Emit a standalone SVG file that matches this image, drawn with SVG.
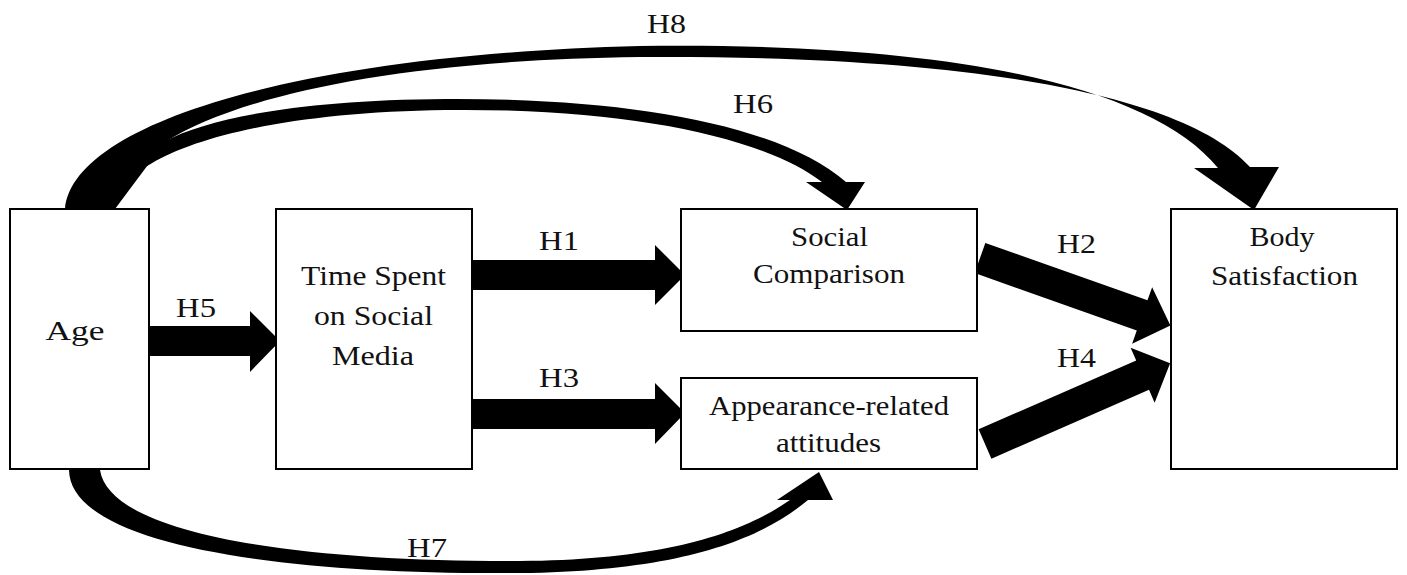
<svg xmlns="http://www.w3.org/2000/svg" xmlns:xlink="http://www.w3.org/1999/xlink" width="1407" height="575" viewBox="0 0 1407 575">
<style>
.box{fill:#fff;stroke:#000;stroke-width:2}
.t{font-family:"Liberation Serif","Times New Roman",serif;font-size:28px;fill:#111;text-anchor:middle}
.arr{fill:#000;stroke:none}
</style>
<defs>
<polygon id="diag" points="0,-16 172,-16 172,-30 202,0 172,30 172,16 0,16"/>
</defs>
<rect width="1407" height="575" fill="#fff"/>
<g id="connectors">
<path id="H8" class="arr" d="M65,209 C72,125 290,55 640,46 C950,42 1150,85 1218,168 L1194,168 L1254,210 L1279,167 L1250,167 C1180,90 950,55 640,57 C400,60 240,95 165,142 L115,209 Z"/>
<path id="H6" class="arr" d="M115,209 C117,160 230,113 446,110 C620,108 760,135 822,182 L806,182 L847,210 L865,182 L846,182 C780,125 630,98 446,99 C300,100 210,118 165,141 L100,180 L100,209 Z"/>
<path id="H7" class="arr" d="M69,470 C70,545 280,575 520,573 C680,571 760,540 808,500 L833,500 L819,472 L777,500 L790,500 C740,535 660,560 520,561 C300,562 110,535 100,470 Z"/>
<polygon id="H5" class="arr" points="148,326 250,326 250,311 280,341 250,372 250,356 148,356"/>
<polygon id="H1" class="arr" points="472,260 655,260 655,245 685,275 655,305 655,290 472,290"/>
<polygon id="H3" class="arr" points="472,399 655,399 655,383 685,413 655,444 655,429 472,429"/>
<use id="H2" class="arr" xlink:href="#diag" transform="translate(980,258) rotate(19.5)"/>
<use id="H4" class="arr" xlink:href="#diag" transform="translate(985,444) rotate(-23.6)"/>
</g>
<g id="labels">
<text class="t" x="666.5" y="33" textLength="39" lengthAdjust="spacingAndGlyphs">H8</text>
<text class="t" x="753" y="113" textLength="40" lengthAdjust="spacingAndGlyphs">H6</text>
<text class="t" x="559" y="250" textLength="40" lengthAdjust="spacingAndGlyphs">H1</text>
<text class="t" x="196" y="317" textLength="40" lengthAdjust="spacingAndGlyphs">H5</text>
<text class="t" x="559" y="387" textLength="40" lengthAdjust="spacingAndGlyphs">H3</text>
<text class="t" x="1076.5" y="253" textLength="39" lengthAdjust="spacingAndGlyphs">H2</text>
<text class="t" x="1076.5" y="367" textLength="39" lengthAdjust="spacingAndGlyphs">H4</text>
<text class="t" x="427" y="557" textLength="40" lengthAdjust="spacingAndGlyphs">H7</text>
</g>
<g id="age">
<rect class="box" x="10" y="209" width="139" height="260"/>
<text class="t" x="75" y="340" textLength="59" lengthAdjust="spacingAndGlyphs">Age</text>
</g>
<g id="time">
<rect class="box" x="276" y="209" width="196" height="260"/>
<text class="t" x="373.5" y="285" textLength="145" lengthAdjust="spacingAndGlyphs">Time Spent</text>
<text class="t" x="373.5" y="325" textLength="119" lengthAdjust="spacingAndGlyphs">on Social</text>
<text class="t" x="373" y="365" textLength="82" lengthAdjust="spacingAndGlyphs">Media</text>
</g>
<g id="social">
<rect class="box" x="681" y="209" width="296" height="122"/>
<text class="t" x="829.5" y="246" textLength="77" lengthAdjust="spacingAndGlyphs">Social</text>
<text class="t" x="829" y="283" textLength="152" lengthAdjust="spacingAndGlyphs">Comparison</text>
</g>
<g id="appearance">
<rect class="box" x="681" y="378" width="296" height="91"/>
<text class="t" x="829" y="415" textLength="240" lengthAdjust="spacingAndGlyphs">Appearance-related</text>
<text class="t" x="828.5" y="452" textLength="105" lengthAdjust="spacingAndGlyphs">attitudes</text>
</g>
<g id="body">
<rect class="box" x="1171" y="209" width="226" height="260"/>
<text class="t" x="1282" y="246" textLength="65" lengthAdjust="spacingAndGlyphs">Body</text>
<text class="t" x="1284.5" y="285" textLength="147" lengthAdjust="spacingAndGlyphs">Satisfaction</text>
</g>
</svg>
